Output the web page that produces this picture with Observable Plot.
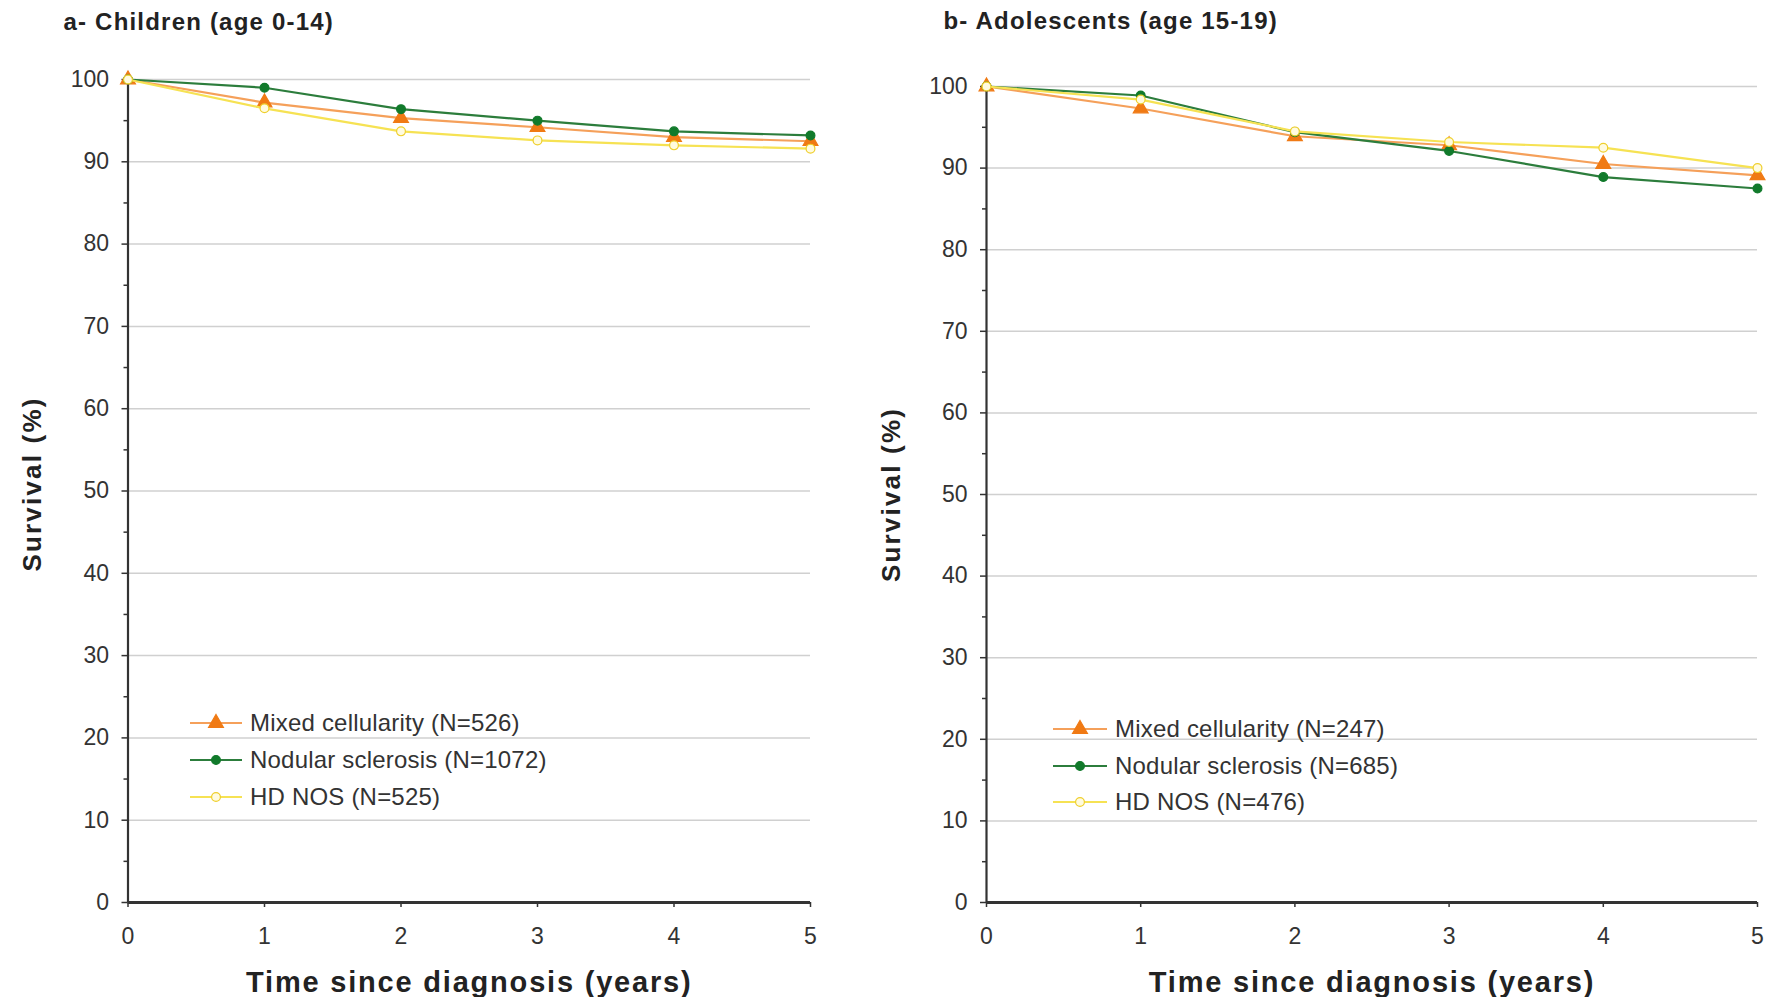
<!DOCTYPE html>
<html>
<head>
<meta charset="utf-8">
<script src="https://cdn.jsdelivr.net/npm/d3@7"></script>
<script src="https://cdn.jsdelivr.net/npm/@observablehq/plot@0.6"></script>
<style>
html,body{margin:0;padding:0;background:#fff;}
#wrap{position:relative;width:1769px;height:997px;overflow:hidden;font-family:"Liberation Sans",Arial,Helvetica,sans-serif;}
.panel{position:absolute;top:0;}
.panel svg{overflow:visible;}
.legend{position:absolute;font-size:24px;color:#333;line-height:1;}
.legend .row{position:absolute;left:0;display:flex;align-items:center;white-space:nowrap;transform:translateY(-50%);letter-spacing:0.2px;}
.legend svg{margin-right:8px;overflow:visible;}
</style>
</head>
<body>
<div id="wrap"></div>
<script>
const years = [0, 1, 2, 3, 4, 5];
const seriesNames = ["Mixed cellularity", "Nodular sclerosis", "HD NOS"];
const childMixed   = [100, 97.2, 95.3, 94.2, 93.0, 92.5];
const childNodular = [100, 99.0, 96.4, 95.0, 93.7, 93.2];
const childNOS     = [100, 96.5, 93.7, 92.6, 92.0, 91.6];
const childCounts  = [526, 1072, 525];
const adolMixed    = [100, 97.3, 93.9, 92.8, 90.5, 89.1];
const adolNodular  = [100, 98.9, 94.4, 92.1, 88.9, 87.5];
const adolNOS      = [100, 98.4, 94.5, 93.2, 92.5, 90.0];
const adolCounts   = [247, 685, 476];
const yTicks = [0, 10, 20, 30, 40, 50, 60, 70, 80, 90, 100];
const yMinorTicks = [5, 15, 25, 35, 45, 55, 65, 75, 85, 95];
const panelTitles = ["a- Children (age 0-14)", "b- Adolescents (age 15-19)"];
const xTitle = "Time since diagnosis (years)";
const yTitle = "Survival (%)";

const styles = [
  {line: "#f5a05a", fill: "#f07a14", stroke: "#f07a14", symbol: "triangle", r: 5.5},
  {line: "#2c7d3c", fill: "#117a2b", stroke: "#117a2b", symbol: "circle", r: 4.4},
  {line: "#f6e253", fill: "#fffbe0", stroke: "#efcf2c", symbol: "circle", r: 4.4}
];

const wrap = document.getElementById("wrap");

function makePanel(cfg) {
  const rows = [];
  cfg.values.forEach((vals, i) => vals.forEach((v, j) =>
    rows.push({series: seriesNames[i], idx: i, year: years[j], value: v})));

  const marks = [
    Plot.ruleY(yTicks.filter(d => d > 0), {stroke: "#d0d0d0", strokeWidth: 1.5}),
    Plot.axisY(yMinorTicks, {tickSize: 4, tickFormat: () => "", strokeWidth: 1.5}),
    Plot.axisY(yTicks, {tickSize: 6, tickPadding: 13, fontSize: 23, strokeWidth: 1.5, tickFormat: d => String(d)}),
    Plot.axisX(years, {tickSize: 5, tickPadding: 20, fontSize: 23, strokeWidth: 1.5, tickFormat: d => String(d)}),
    Plot.ruleX([years[0]], {stroke: "#333", strokeWidth: 2.2}),
    Plot.ruleY([0], {stroke: "#333", strokeWidth: 2.8})
  ];
  styles.forEach((s, i) => {
    const d = rows.filter(r => r.idx === i);
    marks.push(Plot.line(d, {x: "year", y: "value", stroke: s.line, strokeWidth: 2.2}));
    marks.push(Plot.dot(d, {x: "year", y: "value", symbol: () => s.symbol, r: s.r,
      fill: s.fill, stroke: s.stroke, strokeWidth: 1.2}));
  });
  marks.push(Plot.text([cfg.title], {text: d => d, frameAnchor: "top-left", dx: cfg.titleDx, dy: cfg.titleDy,
    textAnchor: "start", lineAnchor: "middle", fontSize: 24, fontWeight: "bold", fill: "#222"}));
  marks.push(Plot.text([xTitle], {text: d => d, frameAnchor: "bottom", dy: 80,
    lineAnchor: "middle", fontSize: 29, fontWeight: "bold", fill: "#222"}));
  marks.push(Plot.text([yTitle], {text: d => d, frameAnchor: "left", rotate: -90, dx: cfg.yTitleDx, dy: cfg.yTitleDy,
    lineAnchor: "middle", textAnchor: "middle", fontSize: 26, fontWeight: "bold", fill: "#222"}));

  const chart = Plot.plot({
    width: cfg.width,
    height: 997,
    marginLeft: cfg.marginLeft,
    marginRight: cfg.marginRight,
    marginTop: cfg.marginTop,
    marginBottom: 95,
    style: {fontFamily: "'Liberation Sans', Arial, sans-serif", color: "#333", background: "#fff", overflow: "visible"},
    x: {domain: [0, 5], label: null},
    y: {domain: [0, 100], label: null},
    marks
  });
  // letter spacing of the title texts (style only)
  const spacing = new Map([[cfg.title, "1.2px"], [xTitle, "1.8px"], [yTitle, "2.2px"]]);
  d3.select(chart).selectAll("text").each(function() {
    const sp = spacing.get(this.textContent);
    if (sp) this.style.letterSpacing = sp;
  });

  const div = document.createElement("div");
  div.className = "panel";
  div.style.left = cfg.left + "px";
  div.appendChild(chart);
  wrap.appendChild(div);

  // legend
  const leg = document.createElement("div");
  leg.className = "legend";
  leg.style.left = cfg.legendLeft + "px";
  leg.style.top = "0px";
  wrap.appendChild(leg);
  styles.forEach((s, i) => {
    const row = document.createElement("div");
    row.className = "row";
    row.style.top = cfg.legendRows[i] + "px";
    const sw = d3.create("svg").attr("width", cfg.swatch).attr("height", 20);
    sw.append("line").attr("x1", 0).attr("x2", cfg.swatch).attr("y1", 10).attr("y2", 10)
      .attr("stroke", s.line).attr("stroke-width", 2.2);
    const sym = s.symbol === "triangle" ? d3.symbolTriangle : d3.symbolCircle;
    sw.append("path").attr("d", d3.symbol(sym, Math.PI * s.r * s.r)())
      .attr("transform", `translate(${cfg.swatch / 2},10)`)
      .attr("fill", s.fill).attr("stroke", s.stroke).attr("stroke-width", 1.2);
    row.appendChild(sw.node());
    const span = document.createElement("span");
    span.textContent = `${seriesNames[i]} (N=${cfg.counts[i]})`;
    row.appendChild(span);
    leg.appendChild(row);
  });
}

makePanel({
  left: 0, width: 880, marginLeft: 127.5, marginRight: 70, marginTop: 79,
  values: [childMixed, childNodular, childNOS], counts: childCounts, title: panelTitles[0],
  titleDx: -64.5, titleDy: -57, yTitleDx: -95.5, yTitleDy: -7,
  legendLeft: 190, legendRows: [723, 760, 797], swatch: 52
});
makePanel({
  left: 860, width: 909, marginLeft: 126, marginRight: 12, marginTop: 86,
  values: [adolMixed, adolNodular, adolNOS], counts: adolCounts, title: panelTitles[1],
  titleDx: -43, titleDy: -65, yTitleDx: -95, yTitleDy: 0,
  legendLeft: 1053, legendRows: [729, 766, 802], swatch: 54
});
</script>
</body>
</html>
